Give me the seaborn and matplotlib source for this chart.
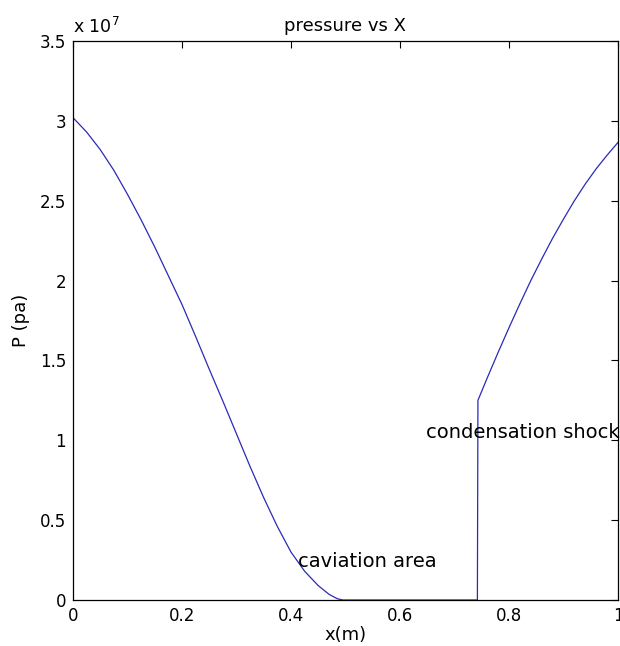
import matplotlib
matplotlib.use("Agg")
import matplotlib.pyplot as plt
import matplotlib.ticker as mticker
import seaborn as sns
import pandas as pd

# position along the nozzle (m)
x_m = [0.0, 0.025, 0.05, 0.075, 0.1, 0.125, 0.15, 0.175, 0.2, 0.225, 0.25,
       0.275, 0.3, 0.325, 0.35, 0.375, 0.4, 0.425, 0.45, 0.47, 0.485, 0.495,
       0.6, 0.742, 0.743, 0.76, 0.78, 0.80, 0.82, 0.84, 0.86, 0.88, 0.90,
       0.92, 0.94, 0.96, 0.98, 1.0]
# pressure (pa)
p_pa = [3.02e7, 2.93e7, 2.82e7, 2.69e7, 2.54e7, 2.38e7, 2.21e7, 2.03e7, 1.85e7,
        1.65e7, 1.445e7, 1.245e7, 1.04e7, 0.835e7, 0.64e7, 0.46e7, 0.30e7,
        0.18e7, 0.09e7, 0.035e7, 0.008e7, 0.0, 0.0, 0.0,
        1.25e7, 1.39e7, 1.55e7, 1.705e7, 1.855e7, 2.0e7, 2.135e7, 2.265e7,
        2.385e7, 2.50e7, 2.605e7, 2.70e7, 2.785e7, 2.865e7]

x_ticks = [0, 0.2, 0.4, 0.6, 0.8, 1.0]
y_ticks = [0, 0.5e7, 1.0e7, 1.5e7, 2.0e7, 2.5e7, 3.0e7, 3.5e7]

sns.set_style("white")
plt.rcParams['font.family'] = ['DejaVu Sans']
plt.rcParams['text.color'] = 'black'
plt.rcParams['axes.labelcolor'] = 'black'
plt.rcParams['xtick.color'] = 'black'
plt.rcParams['ytick.color'] = 'black'

df = pd.DataFrame({"x": x_m, "p": p_pa})

fig = plt.figure(figsize=(6.2, 6.46), dpi=100)
ax = fig.add_axes([73 / 620, 1 - 600 / 646, 545 / 620, 559 / 646])

sns.lineplot(data=df, x="x", y="p", ax=ax, estimator=None, sort=False,
             color="#2a2ab8", linewidth=0.9)

ax.set_xlim(0, 1)
ax.set_ylim(0, 3.5e7)
ax.set_xticks(x_ticks)
ax.set_yticks(y_ticks)
ax.xaxis.set_major_formatter(mticker.FuncFormatter(lambda v, p: f"{v:g}"))
ax.yaxis.set_major_formatter(mticker.FuncFormatter(lambda v, p: f"{v / 1e7:g}"))
ax.tick_params(direction="in", length=5, width=0.8, top=True, right=True,
               labelsize=12, colors="black", labelcolor="black", pad=5)
for s in ax.spines.values():
    s.set_visible(True)
    s.set_color("black")
    s.set_linewidth(0.9)

ax.set_title("pressure vs X", fontsize=13, pad=7, color="black")
ax.set_xlabel("x(m)", fontsize=13, labelpad=1, color="black")
ax.set_ylabel("P (pa)", fontsize=13, labelpad=7, color="black")

ax.text(0.0, 1.008, "x 10$^{7}$", transform=ax.transAxes, fontsize=12.5,
        ha="left", va="bottom", color="black")

ax.text(0.413, 0.238e7, "caviation area", fontsize=14, ha="left", va="center",
        color="black")
ax.text(0.647, 1.046e7, "condensation shock", fontsize=14, ha="left",
        va="center", clip_on=False, color="black")

fig.savefig("out.png", dpi=100, facecolor="white")
